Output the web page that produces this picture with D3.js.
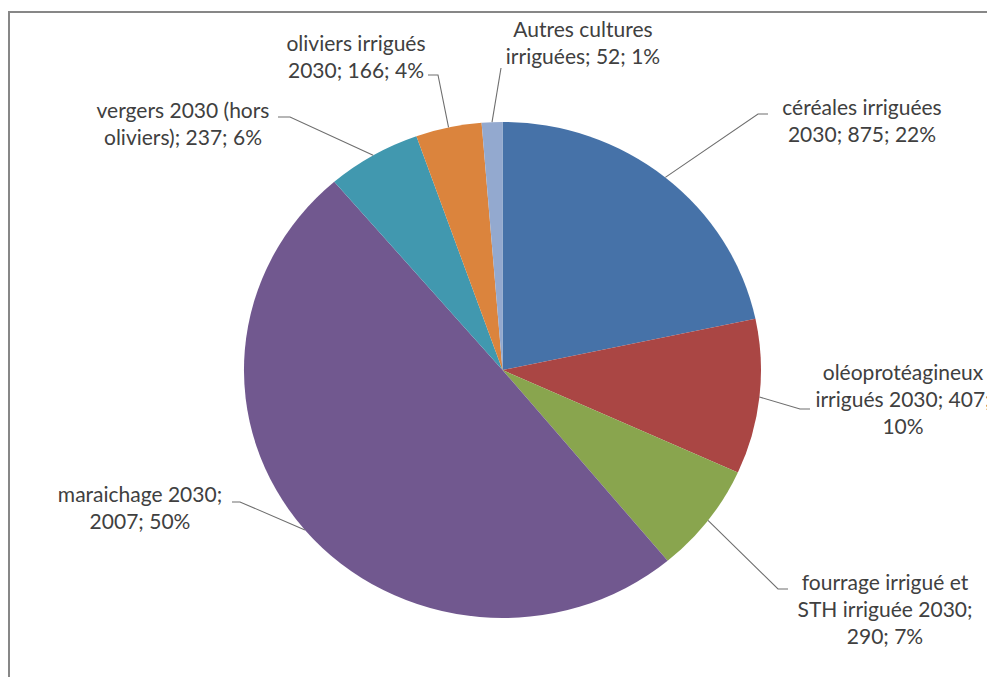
<!DOCTYPE html>
<html>
<head>
<meta charset="utf-8">
<script src="https://cdn.jsdelivr.net/npm/d3@7"></script>
<style>
  html, body { margin: 0; padding: 0; background: #fff; }
  svg { display: block; }
  text { font-family: Lato, "Open Sans", sans-serif; fill: #404040; }
</style>
</head>
<body>
<svg id="chart" width="987" height="677"></svg>
<script>
// Irrigated areas 2030 by crop type
const categories = [
  "céréales irriguées 2030",
  "oléoprotéagineux irrigués 2030",
  "fourrage irrigué et STH irriguée 2030",
  "maraichage 2030",
  "vergers 2030 (hors oliviers)",
  "oliviers irrigués 2030",
  "Autres cultures irriguées"
];
const values = [875, 407, 290, 2007, 237, 166, 52];
const colors = ["#4672A8", "#AA4644", "#89A54E", "#71588F", "#4198AF", "#DB843D", "#93A9CF"];

// Label text, split on lines as displayed
const labelLines = [
  ["céréales irriguées", "2030; 875; 22%"],
  ["oléoprotéagineux", "irrigués 2030; 407;", "10%"],
  ["fourrage irrigué et", "STH irriguée 2030;", "290; 7%"],
  ["maraichage 2030;", "2007; 50%"],
  ["vergers 2030 (hors", "oliviers); 237; 6%"],
  ["oliviers irrigués", "2030; 166; 4%"],
  ["Autres cultures", "irriguées; 52; 1%"]
];

// Label placement: text centre, first line y, leader elbow and leader end
const labelLayout = [
  { x: 862, y: 108, elbow: [758, 114], end: [768, 114] },
  { x: 903, y: 373, elbow: [800, 409], end: [810, 409] },
  { x: 885, y: 583, elbow: [778, 589], end: [788, 589] },
  { x: 140, y: 495, elbow: [240, 502], end: [232, 502] },
  { x: 183, y: 111, elbow: [290, 117], end: [278, 117] },
  { x: 356, y: 44,  elbow: [438, 75],  end: [428, 75] },
  { x: 583, y: 30,  elbow: [501, 68],  end: [501, 68] }
];

const svg = d3.select("#chart");
const W = 987, H = 677;

// chart frame
svg.append("rect")
  .attr("x", 9).attr("y", 12)
  .attr("width", W + 20).attr("height", H + 20)
  .attr("fill", "#fff")
  .attr("stroke", "#878787")
  .attr("stroke-width", 2);

const cx = 502.5, cy = 370, rx = 258.5, ry = 248;

const pie = d3.pie().sort(null).value(d => d)(values);
const arc = d3.arc().innerRadius(0).outerRadius(ry);

const g = svg.append("g")
  .attr("transform", `translate(${cx},${cy}) scale(${rx / ry},1)`);

g.selectAll("path")
  .data(pie)
  .join("path")
  .attr("d", arc)
  .attr("fill", (d, i) => colors[i])
  .attr("stroke", "none");

// leader lines from the slice edge (mid angle) to the label
const leaders = svg.append("g")
  .attr("fill", "none")
  .attr("stroke", "#6e6e6e")
  .attr("stroke-width", 1.1);

pie.forEach((d, i) => {
  const a = (d.startAngle + d.endAngle) / 2;
  const p0 = [cx + rx * Math.sin(a), cy - ry * Math.cos(a)];
  const L = labelLayout[i];
  leaders.append("path")
    .attr("d", d3.line()([p0, L.elbow, L.end]));
});

// labels
const lineH = 27;
labelLines.forEach((lines, i) => {
  const L = labelLayout[i];
  const t = svg.append("text")
    .attr("text-anchor", "middle")
    .attr("font-size", 21);
  lines.forEach((s, j) => {
    t.append("tspan")
      .attr("x", L.x)
      .attr("y", L.y + j * lineH)
      .attr("dy", "0.35em")
      .text(s);
  });
});
</script>
</body>
</html>
